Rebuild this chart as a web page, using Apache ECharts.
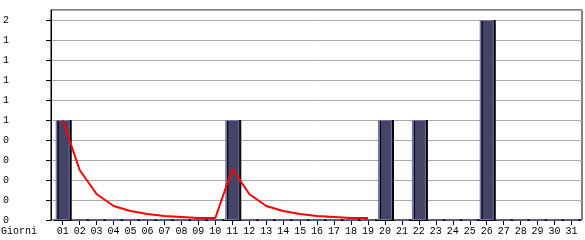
<!DOCTYPE html>
<html><head><meta charset="utf-8">
<script src="https://cdn.jsdelivr.net/npm/echarts@6/dist/echarts.min.js"></script>
<style>html,body{margin:0;padding:0;background:#fff}#c{width:585px;height:240px}</style>
</head><body><div id="c"></div>
<script>
var days = ['01','02','03','04','05','06','07','08','09','10','11','12','13','14','15','16','17','18','19','20','21','22','23','24','25','26','27','28','29','30','31'];
var visits = [1,0,0,0,0,0,0,0,0,0,1,0,0,0,0,0,0,0,0,1,0,1,0,0,0,2,0,0,0,0,0];
var trend = [1.0,0.5,0.26,0.14,0.09,0.06,0.04,0.03,0.02,0.02,0.51,0.26,0.14,0.09,0.06,0.04,0.03,0.02,0.02];
var axisName = 'Giorni';
var FONT = 'Liberation Mono';

var chart = echarts.init(document.getElementById('c'), null, {renderer:'canvas'});
chart.setOption({
  animation:false,
  backgroundColor:'#fff',
  title:{text:axisName,left:1,top:226,padding:0,textStyle:{fontFamily:FONT,fontSize:10,fontWeight:'normal',color:'#000'}},
  grid:[
    {left:50,right:3,top:10,bottom:20,show:true,borderColor:'#000',borderWidth:1,backgroundColor:'transparent'},
    {left:54.2,right:5,top:10,bottom:20}
  ],
  xAxis:[
    {gridIndex:0,type:'value',min:0,max:1,show:false},
    {gridIndex:1,type:'category',data:days,boundaryGap:true,
     axisLine:{show:true,lineStyle:{color:'#000',width:1}},
     axisTick:{show:true,alignWithLabel:true,length:5,lineStyle:{color:'#000'}},
     axisLabel:{interval:0,margin:6,fontFamily:FONT,fontSize:10,color:'#000'},
     splitLine:{show:false}}
  ],
  yAxis:[
    {gridIndex:0,type:'value',min:0,max:2.1,interval:0.2,
     axisLine:{show:true,lineStyle:{color:'#000'}},
     axisTick:{show:true,length:5,lineStyle:{color:'#000'}},
     axisLabel:{align:'left',margin:48,showMaxLabel:false,fontFamily:FONT,fontSize:10,color:'#000',
       formatter:function(v){return v>2.05?'':String(Math.floor(v+1e-9));}},
     splitLine:{show:true,lineStyle:{color:'#aaaaaa',width:1}}},
    {gridIndex:1,type:'value',min:0,max:2.1,show:false,splitLine:{show:false}}
  ],
  series:[
    {type:'bar',xAxisIndex:1,yAxisIndex:1,data:visits,barWidth:14,
     itemStyle:{
       color:new echarts.graphic.LinearGradient(0,0,1,0,[
         {offset:0,color:'#7878b4'},{offset:0.12,color:'#7878b4'},
         {offset:0.12,color:'#444466'},{offset:1,color:'#444466'}]),
       borderColor:'#7272ac',borderWidth:1,
       shadowColor:'#000',shadowOffsetX:2,shadowOffsetY:0,shadowBlur:0}},
    {type:'line',xAxisIndex:1,yAxisIndex:1,data:trend,showSymbol:false,symbol:'none',
     lineStyle:{color:'#ff0000',width:2},z:5}
  ]
});
</script></body></html>
